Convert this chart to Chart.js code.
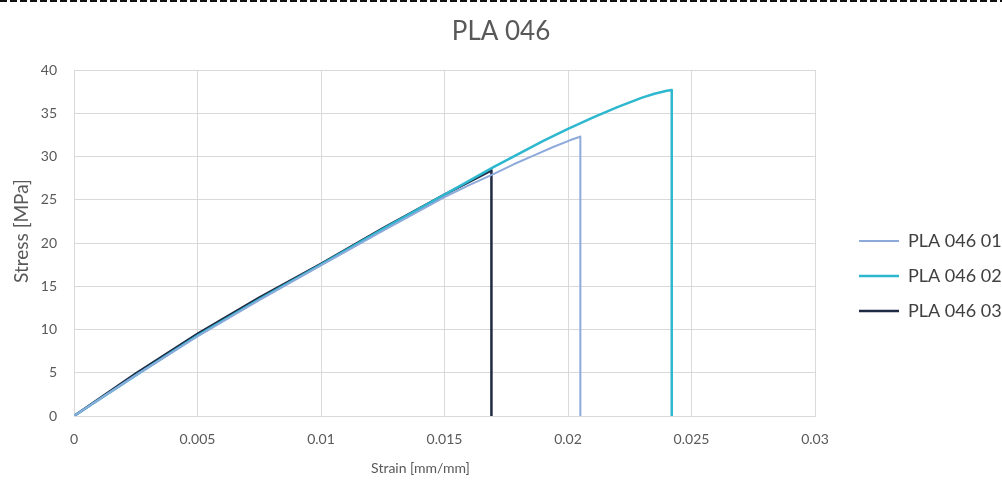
<!DOCTYPE html>
<html>
<head>
<meta charset="utf-8">
<script src="https://cdn.jsdelivr.net/npm/chart.js@4/dist/chart.umd.min.js"></script>
<style>
  html, body { margin: 0; padding: 0; background: #fff; }
  #wrap { position: relative; width: 1002px; height: 480px; }
  #dash { position: absolute; left: 0; top: 0; width: 1002px; height: 2px;
          background: repeating-linear-gradient(to right, #111 0 7px, transparent 7px 10px); }
  canvas { display: block; }
</style>
</head>
<body>
<div id="wrap">
  <canvas id="c" width="1002" height="480"></canvas>
  <div id="dash"></div>
</div>
<script>
// Tensile test curves, stress vs strain
const seriesNames = ['PLA 046 01', 'PLA 046 02', 'PLA 046 03'];
const xTitle = 'Strain [mm/mm]';
const yTitle = 'Stress [MPa]';

const strain01 = [0, 0.0025, 0.005, 0.0075, 0.01, 0.0125, 0.015, 0.016, 0.017, 0.0178, 0.0186, 0.0194, 0.0201, 0.0204, 0.0205, 0.0205];
const stress01 = [0, 4.7, 9.2, 13.4, 17.4, 21.4, 25.3, 26.7, 28.0, 29.1, 30.1, 31.1, 31.9, 32.2, 32.3, 0];

const strain02 = [0, 0.0025, 0.005, 0.0075, 0.01, 0.0125, 0.015, 0.017, 0.019, 0.02, 0.021, 0.022, 0.023, 0.0235, 0.024, 0.0242, 0.0242];
const stress02 = [0, 4.7, 9.3, 13.5, 17.5, 21.6, 25.6, 28.8, 31.8, 33.2, 34.5, 35.7, 36.8, 37.25, 37.6, 37.7, 0];

const strain03 = [0, 0.0025, 0.005, 0.0075, 0.01, 0.0125, 0.015, 0.0169, 0.0169];
const stress03 = [0, 4.9, 9.5, 13.7, 17.6, 21.7, 25.6, 28.4, 0];

const xTicks = [0, 0.005, 0.01, 0.015, 0.02, 0.025, 0.03];
const yTicks = [0, 5, 10, 15, 20, 25, 30, 35, 40];

const colors = ['#8eaadb', '#2eb8cf', '#1f2b45'];
const widths = [2, 2.5, 2.5];

function toPoints(xs, ys) {
  return xs.map((x, i) => ({ x: x, y: ys[i] }));
}

const datasets = [
  [strain01, stress01],
  [strain02, stress02],
  [strain03, stress03]
].map((pair, i) => ({
  label: seriesNames[i],
  data: toPoints(pair[0], pair[1]),
  showLine: true,
  borderColor: colors[i],
  backgroundColor: colors[i],
  borderWidth: widths[i],
  borderJoinStyle: 'round',
  pointRadius: 0,
  pointHoverRadius: 0,
  tension: 0,
  fill: false
}));

const FONT = 'Lato, "Open Sans", sans-serif';
const TXT = '#595959';
const GRID = '#d9d9d9';

// Legend box sits to the right of the plot, a little below its middle
const legendPlacer = {
  id: 'legendPlacer',
  afterInit(chart) {
    const lg = chart.legend;
    const fit = lg.fit.bind(lg);
    lg.fit = function () { fit(); this.width = 187; };
  },
  afterLayout(chart) {
    const lg = chart.legend;
    const dx = 842 - lg.left;
    lg.left += dx; lg.right += dx;
    lg.top += 36; lg.bottom += 36;
  }
};

// Axis titles, set slightly off the plot centre
const axisTitles = {
  id: 'axisTitles',
  afterDraw(chart) {
    const { ctx, chartArea: a } = chart;
    ctx.save();
    ctx.fillStyle = TXT;
    ctx.textAlign = 'center';
    ctx.textBaseline = 'middle';
    ctx.font = '14px ' + FONT;
    ctx.fillText(xTitle, (a.left + a.right) / 2 - 24, 468);
    ctx.translate(22, (a.top + a.bottom) / 2 - 12);
    ctx.rotate(-Math.PI / 2);
    ctx.font = '19px ' + FONT;
    ctx.fillText(yTitle, 0, 0);
    ctx.restore();
  }
};

new Chart(document.getElementById('c'), {
  type: 'scatter',
  data: { datasets: datasets },
  plugins: [legendPlacer, axisTitles],
  options: {
    responsive: false,
    animation: false,
    layout: { padding: { left: 0, right: 0, top: 0, bottom: 0 } },
    plugins: {
      title: {
        display: true,
        text: 'PLA 046',
        color: TXT,
        font: { family: FONT, size: 26, weight: 'normal' },
        padding: { top: 16, bottom: 22.8 }
      },
      legend: {
        position: 'right',
        labels: {
          usePointStyle: true,
          pointStyle: 'line',
          pointStyleWidth: 40,
          boxHeight: 2,
          color: '#404040',
          font: { family: FONT, size: 18 },
          padding: 17,
          generateLabels(chart) {
            return chart.data.datasets.map((d, i) => ({
              text: d.label,
              strokeStyle: d.borderColor,
              fillStyle: d.borderColor,
              lineWidth: d.borderWidth,
              pointStyle: 'line',
              hidden: false,
              datasetIndex: i,
              fontColor: '#404040'
            }));
          }
        }
      },
      tooltip: { enabled: false }
    },
    scales: {
      x: {
        type: 'linear',
        min: xTicks[0],
        max: xTicks[xTicks.length - 1],
        afterBuildTicks(axis) { axis.ticks = xTicks.map(v => ({ value: v })); },
        afterFit(axis) { axis.height = 64; },
        ticks: {
          color: TXT,
          font: { family: FONT, size: 14 },
          padding: 15,
          maxRotation: 0,
          callback: v => String(+Number(v).toFixed(3))
        },
        grid: { color: GRID, lineWidth: 1, drawTicks: false },
        border: { color: GRID },
        title: { display: false }
      },
      y: {
        type: 'linear',
        min: yTicks[0],
        max: yTicks[yTicks.length - 1],
        afterBuildTicks(axis) { axis.ticks = yTicks.map(v => ({ value: v })); },
        afterFit(axis) { axis.width = 74; },
        ticks: {
          color: TXT,
          font: { family: FONT, size: 14 },
          padding: 17
        },
        grid: { color: GRID, lineWidth: 1, drawTicks: false },
        border: { color: GRID },
        title: { display: false }
      }
    }
  }
});
</script>
</body>
</html>
